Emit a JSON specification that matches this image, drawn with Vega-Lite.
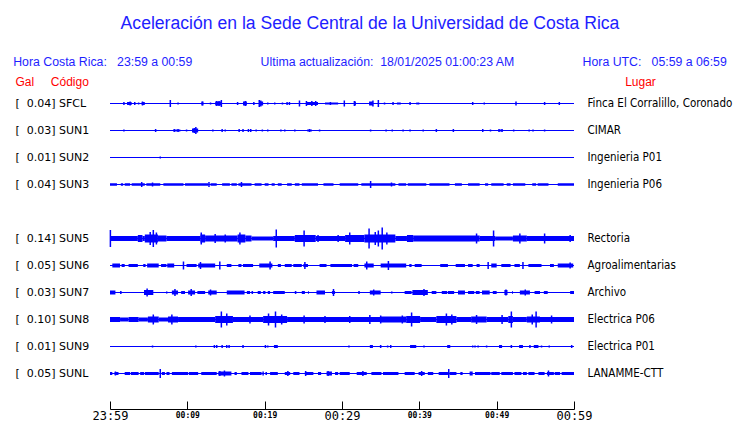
{
  "$schema": "https://vega.github.io/schema/vega-lite/v6.json",
  "autosize": {"type": "none"},
  "padding": {"left": 110, "top": 90, "right": 166, "bottom": 36},
  "width": 464,
  "height": 297,
  "background": "white",
  "title": {
    "text": "Aceleración en la Sede Central de la Universidad de Costa Rica",
    "subtitle": "Hora Costa Rica:\u00a0\u00a0\u00a023:59 a 00:59\u00a0\u00a0\u00a0\u00a0\u00a0\u00a0\u00a0\u00a0\u00a0\u00a0\u00a0\u00a0\u00a0\u00a0\u00a0\u00a0\u00a0\u00a0\u00a0\u00a0Ultima actualización:\u00a0\u00a018/01/2025 01:00:23 AM\u00a0\u00a0\u00a0\u00a0\u00a0\u00a0\u00a0\u00a0\u00a0\u00a0\u00a0\u00a0\u00a0\u00a0\u00a0\u00a0\u00a0\u00a0\u00a0\u00a0Hora UTC:\u00a0\u00a0\u00a005:59 a 06:59",
    "anchor": "middle",
    "dx": 28,
    "font": "Liberation Sans",
    "fontSize": 17.6,
    "fontWeight": "normal",
    "color": "#1e1eff",
    "subtitleFont": "Liberation Sans",
    "subtitleFontSize": 12.3,
    "subtitleColor": "#1e1eff",
    "subtitlePadding": 23,
    "offset": 7
  },
  "config": {"view": {"stroke": null}, "axis": {"grid": false}},
  "datasets": {
    "seg": [
      {"s":"SFCL","t0":0,"t1":60,"w":1},
      {"s":"SUN1","t0":0,"t1":60,"w":1},
      {"s":"SUN2","t0":0,"t1":60,"w":1},
      {"s":"SUN3","t0":0,"t1":60,"w":1},
      {"s":"SUN5","t0":0,"t1":60,"w":1},
      {"s":"SUN6","t0":0,"t1":60,"w":1},
      {"s":"SUN7","t0":0,"t1":60,"w":1},
      {"s":"SUN8","t0":0,"t1":60,"w":1},
      {"s":"SUN9","t0":0,"t1":60,"w":1},
      {"s":"SUNL","t0":0,"t1":60,"w":1},
      {"s":"SFCL","t0":2.3,"t1":2.8,"w":3},
      {"s":"SFCL","t0":4.1,"t1":4.5,"w":3},
      {"s":"SFCL","t0":13.6,"t1":14.4,"w":4},
      {"s":"SFCL","t0":17.2,"t1":17.7,"w":4},
      {"s":"SFCL","t0":19.3,"t1":19.8,"w":4},
      {"s":"SFCL","t0":25.4,"t1":26.9,"w":3},
      {"s":"SFCL","t0":27.8,"t1":29.5,"w":2},
      {"s":"SFCL","t0":31.6,"t1":31.8,"w":4},
      {"s":"SFCL","t0":33.5,"t1":34.0,"w":4},
      {"s":"SFCL","t0":37.1,"t1":37.6,"w":2},
      {"s":"SUN1","t0":8.3,"t1":9.1,"w":2},
      {"s":"SUN1","t0":10.6,"t1":11.4,"w":4},
      {"s":"SUN1","t0":25.5,"t1":26.1,"w":2},
      {"s":"SUN1","t0":50.3,"t1":50.7,"w":2},
      {"s":"SUN3","t0":0,"t1":0.9,"w":2.5},
      {"s":"SUN3","t0":1.4,"t1":1.7,"w":2.5},
      {"s":"SUN3","t0":1.9,"t1":2.6,"w":2.5},
      {"s":"SUN3","t0":2.8,"t1":4.5,"w":2.5},
      {"s":"SUN3","t0":4.7,"t1":6.5,"w":2.5},
      {"s":"SUN3","t0":6.9,"t1":9.5,"w":2.5},
      {"s":"SUN3","t0":9.7,"t1":12.7,"w":2.5},
      {"s":"SUN3","t0":13.0,"t1":13.8,"w":2.5},
      {"s":"SUN3","t0":14.5,"t1":15.5,"w":2.5},
      {"s":"SUN3","t0":15.7,"t1":16.4,"w":2.5},
      {"s":"SUN3","t0":16.6,"t1":18.3,"w":2.5},
      {"s":"SUN3","t0":18.7,"t1":19.6,"w":2.5},
      {"s":"SUN3","t0":20.0,"t1":20.5,"w":2.5},
      {"s":"SUN3","t0":20.9,"t1":21.3,"w":2.5},
      {"s":"SUN3","t0":21.7,"t1":22.2,"w":2.5},
      {"s":"SUN3","t0":22.9,"t1":23.5,"w":2.5},
      {"s":"SUN3","t0":23.9,"t1":24.5,"w":2.5},
      {"s":"SUN3","t0":24.8,"t1":26.9,"w":2.5},
      {"s":"SUN3","t0":27.6,"t1":28.9,"w":2.5},
      {"s":"SUN3","t0":29.7,"t1":32.1,"w":2.5},
      {"s":"SUN3","t0":32.5,"t1":36.9,"w":2.5},
      {"s":"SUN3","t0":37.3,"t1":38.3,"w":2.5},
      {"s":"SUN3","t0":38.5,"t1":40.9,"w":2.5},
      {"s":"SUN3","t0":41.3,"t1":43.9,"w":2.5},
      {"s":"SUN3","t0":44.6,"t1":45.5,"w":2.5},
      {"s":"SUN3","t0":46.3,"t1":47.8,"w":2.5},
      {"s":"SUN3","t0":48.5,"t1":48.9,"w":2.5},
      {"s":"SUN3","t0":49.3,"t1":50.9,"w":2.5},
      {"s":"SUN3","t0":51.3,"t1":51.8,"w":2.5},
      {"s":"SUN3","t0":52.1,"t1":53.7,"w":2.5},
      {"s":"SUN3","t0":54.6,"t1":55.1,"w":2.5},
      {"s":"SUN3","t0":55.3,"t1":56.7,"w":2.5},
      {"s":"SUN3","t0":57.9,"t1":60,"w":2.5},
      {"s":"SUN5","t0":0.1,"t1":3.6,"w":5},
      {"s":"SUN5","t0":3.6,"t1":4.2,"w":7},
      {"s":"SUN5","t0":4.2,"t1":4.5,"w":5},
      {"s":"SUN5","t0":4.5,"t1":6.2,"w":8},
      {"s":"SUN5","t0":6.2,"t1":7.3,"w":6},
      {"s":"SUN5","t0":7.3,"t1":11.7,"w":5},
      {"s":"SUN5","t0":11.7,"t1":12.3,"w":8},
      {"s":"SUN5","t0":12.3,"t1":16.5,"w":6},
      {"s":"SUN5","t0":16.5,"t1":17.5,"w":8},
      {"s":"SUN5","t0":17.5,"t1":18.3,"w":6},
      {"s":"SUN5","t0":18.3,"t1":21.1,"w":4},
      {"s":"SUN5","t0":21.1,"t1":23.9,"w":5},
      {"s":"SUN5","t0":23.9,"t1":26.6,"w":7},
      {"s":"SUN5","t0":26.6,"t1":30.4,"w":5},
      {"s":"SUN5","t0":30.4,"t1":32.9,"w":7},
      {"s":"SUN5","t0":32.9,"t1":36.9,"w":8},
      {"s":"SUN5","t0":36.9,"t1":38.4,"w":5},
      {"s":"SUN5","t0":38.4,"t1":39.2,"w":7},
      {"s":"SUN5","t0":39.2,"t1":47.8,"w":6},
      {"s":"SUN5","t0":47.8,"t1":49.8,"w":5},
      {"s":"SUN5","t0":49.8,"t1":52.1,"w":4},
      {"s":"SUN5","t0":52.1,"t1":53.9,"w":6},
      {"s":"SUN5","t0":53.9,"t1":60,"w":5},
      {"s":"SUN6","t0":0.3,"t1":1.3,"w":4},
      {"s":"SUN6","t0":1.5,"t1":1.9,"w":3},
      {"s":"SUN6","t0":2.4,"t1":3.6,"w":3},
      {"s":"SUN6","t0":4.3,"t1":4.6,"w":3},
      {"s":"SUN6","t0":4.8,"t1":6.3,"w":4},
      {"s":"SUN6","t0":6.6,"t1":7.3,"w":3},
      {"s":"SUN6","t0":7.4,"t1":8.3,"w":4},
      {"s":"SUN6","t0":9.9,"t1":11.2,"w":3},
      {"s":"SUN6","t0":11.4,"t1":13.6,"w":4},
      {"s":"SUN6","t0":15.1,"t1":15.7,"w":3},
      {"s":"SUN6","t0":16.6,"t1":17.0,"w":3},
      {"s":"SUN6","t0":17.2,"t1":18.5,"w":3},
      {"s":"SUN6","t0":19.3,"t1":21.0,"w":4},
      {"s":"SUN6","t0":21.7,"t1":22.1,"w":3},
      {"s":"SUN6","t0":22.6,"t1":23.5,"w":3},
      {"s":"SUN6","t0":23.7,"t1":24.8,"w":3},
      {"s":"SUN6","t0":25.0,"t1":25.6,"w":3},
      {"s":"SUN6","t0":27.1,"t1":28.0,"w":3},
      {"s":"SUN6","t0":28.5,"t1":31.3,"w":3},
      {"s":"SUN6","t0":31.5,"t1":32.1,"w":3},
      {"s":"SUN6","t0":32.9,"t1":34.1,"w":4},
      {"s":"SUN6","t0":35.0,"t1":38.3,"w":4},
      {"s":"SUN6","t0":38.7,"t1":39.0,"w":3},
      {"s":"SUN6","t0":39.4,"t1":40.3,"w":3},
      {"s":"SUN6","t0":42.7,"t1":43.7,"w":3},
      {"s":"SUN6","t0":44.7,"t1":45.9,"w":3},
      {"s":"SUN6","t0":46.3,"t1":46.9,"w":3},
      {"s":"SUN6","t0":47.4,"t1":47.8,"w":3},
      {"s":"SUN6","t0":49.3,"t1":50.0,"w":4},
      {"s":"SUN6","t0":50.6,"t1":51.8,"w":3},
      {"s":"SUN6","t0":52.3,"t1":53.0,"w":3},
      {"s":"SUN6","t0":54.1,"t1":55.8,"w":3},
      {"s":"SUN6","t0":56.9,"t1":57.4,"w":3},
      {"s":"SUN6","t0":57.9,"t1":59.9,"w":4},
      {"s":"SUN7","t0":0,"t1":0.7,"w":4},
      {"s":"SUN7","t0":1.3,"t1":1.5,"w":3},
      {"s":"SUN7","t0":4.4,"t1":5.6,"w":5},
      {"s":"SUN7","t0":7.3,"t1":7.4,"w":3},
      {"s":"SUN7","t0":8.0,"t1":8.8,"w":4},
      {"s":"SUN7","t0":9.2,"t1":9.7,"w":3},
      {"s":"SUN7","t0":10.1,"t1":11.0,"w":4},
      {"s":"SUN7","t0":11.3,"t1":12.3,"w":3},
      {"s":"SUN7","t0":12.7,"t1":13.8,"w":4},
      {"s":"SUN7","t0":15.1,"t1":17.4,"w":4},
      {"s":"SUN7","t0":17.7,"t1":18.1,"w":3},
      {"s":"SUN7","t0":18.3,"t1":18.5,"w":3},
      {"s":"SUN7","t0":19.1,"t1":19.5,"w":3},
      {"s":"SUN7","t0":19.8,"t1":20.1,"w":3},
      {"s":"SUN7","t0":20.4,"t1":20.7,"w":3},
      {"s":"SUN7","t0":21.1,"t1":22.6,"w":3},
      {"s":"SUN7","t0":23.9,"t1":24.1,"w":3},
      {"s":"SUN7","t0":24.8,"t1":25.2,"w":3},
      {"s":"SUN7","t0":25.6,"t1":25.7,"w":3},
      {"s":"SUN7","t0":26.7,"t1":27.8,"w":4},
      {"s":"SUN7","t0":28.7,"t1":29.1,"w":3},
      {"s":"SUN7","t0":32.1,"t1":32.3,"w":3},
      {"s":"SUN7","t0":33.6,"t1":35.0,"w":4},
      {"s":"SUN7","t0":36.4,"t1":36.5,"w":3},
      {"s":"SUN7","t0":38.1,"t1":39.0,"w":3},
      {"s":"SUN7","t0":39.1,"t1":41.1,"w":5},
      {"s":"SUN7","t0":41.6,"t1":42.2,"w":3},
      {"s":"SUN7","t0":42.9,"t1":43.6,"w":3},
      {"s":"SUN7","t0":43.7,"t1":44.5,"w":3},
      {"s":"SUN7","t0":45.0,"t1":45.9,"w":4},
      {"s":"SUN7","t0":46.3,"t1":47.1,"w":3},
      {"s":"SUN7","t0":47.3,"t1":47.8,"w":3},
      {"s":"SUN7","t0":48.1,"t1":49.1,"w":4},
      {"s":"SUN7","t0":49.5,"t1":50.0,"w":3},
      {"s":"SUN7","t0":51.0,"t1":51.4,"w":5},
      {"s":"SUN7","t0":52.0,"t1":52.1,"w":3},
      {"s":"SUN7","t0":53.0,"t1":54.3,"w":4},
      {"s":"SUN7","t0":54.9,"t1":55.6,"w":3},
      {"s":"SUN7","t0":56.1,"t1":56.6,"w":3},
      {"s":"SUN7","t0":59.5,"t1":60,"w":3},
      {"s":"SUN8","t0":0,"t1":1.3,"w":5},
      {"s":"SUN8","t0":1.3,"t1":2.4,"w":4},
      {"s":"SUN8","t0":2.4,"t1":3.7,"w":5},
      {"s":"SUN8","t0":3.7,"t1":4.9,"w":4},
      {"s":"SUN8","t0":4.9,"t1":6.3,"w":6},
      {"s":"SUN8","t0":6.3,"t1":7.5,"w":4},
      {"s":"SUN8","t0":7.5,"t1":8.8,"w":6},
      {"s":"SUN8","t0":8.8,"t1":13.6,"w":5},
      {"s":"SUN8","t0":13.6,"t1":15.9,"w":7},
      {"s":"SUN8","t0":15.9,"t1":19.8,"w":5},
      {"s":"SUN8","t0":19.8,"t1":22.9,"w":7},
      {"s":"SUN8","t0":22.9,"t1":35.0,"w":5},
      {"s":"SUN8","t0":35.0,"t1":38.3,"w":6},
      {"s":"SUN8","t0":38.3,"t1":40.1,"w":7},
      {"s":"SUN8","t0":40.1,"t1":42.2,"w":5},
      {"s":"SUN8","t0":42.2,"t1":44.8,"w":7},
      {"s":"SUN8","t0":44.8,"t1":46.7,"w":5},
      {"s":"SUN8","t0":46.7,"t1":48.7,"w":6},
      {"s":"SUN8","t0":48.7,"t1":51.5,"w":5},
      {"s":"SUN8","t0":51.5,"t1":52.1,"w":7},
      {"s":"SUN8","t0":52.1,"t1":53.9,"w":5},
      {"s":"SUN8","t0":53.9,"t1":55.6,"w":6},
      {"s":"SUN8","t0":55.6,"t1":60,"w":5},
      {"s":"SUN9","t0":21.2,"t1":21.7,"w":3},
      {"s":"SUN9","t0":33.6,"t1":34.0,"w":3},
      {"s":"SUN9","t0":34.9,"t1":35.1,"w":3},
      {"s":"SUN9","t0":38.8,"t1":39.6,"w":3},
      {"s":"SUN9","t0":43.6,"t1":44.0,"w":3},
      {"s":"SUN9","t0":50.3,"t1":50.7,"w":3},
      {"s":"SUN9","t0":51.8,"t1":52.0,"w":3},
      {"s":"SUN9","t0":52.9,"t1":53.4,"w":3},
      {"s":"SUN9","t0":54.8,"t1":55.4,"w":3},
      {"s":"SUNL","t0":0,"t1":0.3,"w":3},
      {"s":"SUNL","t0":0.6,"t1":1.1,"w":3},
      {"s":"SUNL","t0":1.9,"t1":2.6,"w":3},
      {"s":"SUNL","t0":2.7,"t1":3.7,"w":3},
      {"s":"SUNL","t0":3.9,"t1":4.4,"w":3},
      {"s":"SUNL","t0":4.5,"t1":6.3,"w":3},
      {"s":"SUNL","t0":6.7,"t1":7.1,"w":3},
      {"s":"SUNL","t0":7.3,"t1":7.7,"w":3},
      {"s":"SUNL","t0":8.0,"t1":10.1,"w":3},
      {"s":"SUNL","t0":10.2,"t1":11.4,"w":3},
      {"s":"SUNL","t0":11.8,"t1":13.8,"w":3},
      {"s":"SUNL","t0":14.0,"t1":15.7,"w":4},
      {"s":"SUNL","t0":16.1,"t1":16.4,"w":3},
      {"s":"SUNL","t0":17.0,"t1":17.9,"w":3},
      {"s":"SUNL","t0":18.1,"t1":19.6,"w":3},
      {"s":"SUNL","t0":20.1,"t1":20.3,"w":3},
      {"s":"SUNL","t0":20.7,"t1":21.7,"w":3},
      {"s":"SUNL","t0":22.6,"t1":23.3,"w":3},
      {"s":"SUNL","t0":23.7,"t1":24.5,"w":3},
      {"s":"SUNL","t0":25.2,"t1":26.3,"w":3},
      {"s":"SUNL","t0":26.9,"t1":27.3,"w":3},
      {"s":"SUNL","t0":28.0,"t1":28.7,"w":4},
      {"s":"SUNL","t0":29.1,"t1":29.5,"w":3},
      {"s":"SUNL","t0":29.7,"t1":31.0,"w":3},
      {"s":"SUNL","t0":31.9,"t1":33.2,"w":3},
      {"s":"SUNL","t0":33.8,"t1":35.1,"w":3},
      {"s":"SUNL","t0":35.3,"t1":37.3,"w":3},
      {"s":"SUNL","t0":38.1,"t1":39.4,"w":3},
      {"s":"SUNL","t0":39.9,"t1":40.7,"w":3},
      {"s":"SUNL","t0":41.1,"t1":41.8,"w":3},
      {"s":"SUNL","t0":42.5,"t1":43.7,"w":3},
      {"s":"SUNL","t0":43.9,"t1":44.8,"w":3},
      {"s":"SUNL","t0":45.3,"t1":45.6,"w":3},
      {"s":"SUNL","t0":46.5,"t1":46.9,"w":4},
      {"s":"SUNL","t0":47.2,"t1":49.2,"w":3},
      {"s":"SUNL","t0":49.3,"t1":50.4,"w":3},
      {"s":"SUNL","t0":50.6,"t1":52.1,"w":3},
      {"s":"SUNL","t0":52.3,"t1":53.2,"w":3},
      {"s":"SUNL","t0":53.4,"t1":53.9,"w":3},
      {"s":"SUNL","t0":54.1,"t1":54.9,"w":3},
      {"s":"SUNL","t0":55.4,"t1":56.2,"w":3},
      {"s":"SUNL","t0":56.5,"t1":57.4,"w":3},
      {"s":"SUNL","t0":57.5,"t1":58.2,"w":3},
      {"s":"SUNL","t0":58.4,"t1":60,"w":3}
    ],
    "pk": [
      {"s":"SFCL","t":1.8,"a":3},{"s":"SFCL","t":2.3,"a":3},{"s":"SFCL","t":2.6,"a":4},{"s":"SFCL","t":3.2,"a":3},
      {"s":"SFCL","t":3.7,"a":2},{"s":"SFCL","t":4.2,"a":4},{"s":"SFCL","t":7.8,"a":7},{"s":"SFCL","t":8.8,"a":2},
      {"s":"SFCL","t":11.9,"a":4},{"s":"SFCL","t":12.0,"a":4},{"s":"SFCL","t":13.0,"a":2},{"s":"SFCL","t":13.8,"a":5},
      {"s":"SFCL","t":14.1,"a":5},{"s":"SFCL","t":14.4,"a":7},{"s":"SFCL","t":16.5,"a":3},{"s":"SFCL","t":17.5,"a":5},
      {"s":"SFCL","t":18.6,"a":3},{"s":"SFCL","t":19.3,"a":7},{"s":"SFCL","t":19.5,"a":6},{"s":"SFCL","t":20.4,"a":2},
      {"s":"SFCL","t":21.3,"a":2},{"s":"SFCL","t":22.3,"a":2},{"s":"SFCL","t":22.9,"a":3},{"s":"SFCL","t":23.2,"a":3},
      {"s":"SFCL","t":24.5,"a":6},{"s":"SFCL","t":25.4,"a":5},{"s":"SFCL","t":26.1,"a":5},{"s":"SFCL","t":26.6,"a":5},
      {"s":"SFCL","t":28.5,"a":3},{"s":"SFCL","t":30.3,"a":6},{"s":"SFCL","t":31.6,"a":5},{"s":"SFCL","t":34.0,"a":6},
      {"s":"SFCL","t":34.7,"a":7},{"s":"SFCL","t":35.5,"a":2},{"s":"SFCL","t":36.6,"a":3},{"s":"SFCL","t":38.8,"a":3},
      {"s":"SFCL","t":39.7,"a":2},{"s":"SFCL","t":39.9,"a":2},{"s":"SFCL","t":46.9,"a":3},{"s":"SFCL","t":48.4,"a":2},
      {"s":"SFCL","t":52.5,"a":4},{"s":"SFCL","t":56.2,"a":3},{"s":"SFCL","t":58.1,"a":3},
      {"s":"SUN1","t":1.8,"a":2},{"s":"SUN1","t":5.9,"a":3},{"s":"SUN1","t":8.3,"a":3},{"s":"SUN1","t":8.8,"a":3},
      {"s":"SUN1","t":9.9,"a":2},{"s":"SUN1","t":10.9,"a":5},{"s":"SUN1","t":11.1,"a":7},{"s":"SUN1","t":13.3,"a":2},
      {"s":"SUN1","t":14.5,"a":3},{"s":"SUN1","t":14.9,"a":2},{"s":"SUN1","t":16.7,"a":3},{"s":"SUN1","t":17.2,"a":3},
      {"s":"SUN1","t":17.9,"a":3},{"s":"SUN1","t":18.2,"a":3},{"s":"SUN1","t":18.9,"a":2},{"s":"SUN1","t":19.7,"a":2},
      {"s":"SUN1","t":20.4,"a":2},{"s":"SUN1","t":22.1,"a":2},{"s":"SUN1","t":22.6,"a":2},{"s":"SUN1","t":23.9,"a":2},
      {"s":"SUN1","t":25.8,"a":3},{"s":"SUN1","t":27.1,"a":2},{"s":"SUN1","t":33.7,"a":2},{"s":"SUN1","t":35.7,"a":2},
      {"s":"SUN1","t":36.5,"a":2},{"s":"SUN1","t":37.9,"a":2},{"s":"SUN1","t":38.8,"a":2},{"s":"SUN1","t":40.5,"a":2},
      {"s":"SUN1","t":42.2,"a":3},{"s":"SUN1","t":44.4,"a":3},{"s":"SUN1","t":48.2,"a":3},{"s":"SUN1","t":49.2,"a":2},
      {"s":"SUN1","t":50.3,"a":3},{"s":"SUN1","t":50.7,"a":3},{"s":"SUN1","t":52.2,"a":2},{"s":"SUN1","t":54.2,"a":2},
      {"s":"SUN1","t":54.7,"a":2},{"s":"SUN1","t":56.2,"a":2},
      {"s":"SUN2","t":6.5,"a":2},
      {"s":"SUN3","t":4.1,"a":5},{"s":"SUN3","t":5.5,"a":4},{"s":"SUN3","t":12.8,"a":5},{"s":"SUN3","t":17.0,"a":5},
      {"s":"SUN3","t":33.7,"a":7},{"s":"SUN3","t":36.4,"a":4},
      {"s":"SUN5","t":0.05,"a":17},{"s":"SUN5","t":5.2,"a":13},{"s":"SUN5","t":5.6,"a":17},{"s":"SUN5","t":6.0,"a":12},
      {"s":"SUN5","t":11.8,"a":12},{"s":"SUN5","t":13.6,"a":9},{"s":"SUN5","t":14.9,"a":8},{"s":"SUN5","t":16.8,"a":12},
      {"s":"SUN5","t":21.5,"a":18},{"s":"SUN5","t":25.1,"a":16},{"s":"SUN5","t":26.9,"a":7},{"s":"SUN5","t":29.5,"a":7},
      {"s":"SUN5","t":31.0,"a":12},{"s":"SUN5","t":33.5,"a":20},{"s":"SUN5","t":34.3,"a":13},{"s":"SUN5","t":34.7,"a":16},
      {"s":"SUN5","t":35.2,"a":22},{"s":"SUN5","t":35.8,"a":12},{"s":"SUN5","t":47.4,"a":10},{"s":"SUN5","t":49.6,"a":16},
      {"s":"SUN5","t":53.0,"a":10},{"s":"SUN5","t":56.2,"a":10},{"s":"SUN5","t":59.5,"a":7},
      {"s":"SUN6","t":9.5,"a":8},{"s":"SUN6","t":11.7,"a":7},{"s":"SUN6","t":14.2,"a":8},{"s":"SUN6","t":20.7,"a":8},
      {"s":"SUN6","t":25.2,"a":7},{"s":"SUN6","t":33.2,"a":8},{"s":"SUN6","t":36.0,"a":9},{"s":"SUN6","t":48.9,"a":7},
      {"s":"SUN6","t":53.4,"a":7},{"s":"SUN6","t":59.5,"a":6},
      {"s":"SUN7","t":4.8,"a":8},{"s":"SUN7","t":8.4,"a":7},{"s":"SUN7","t":10.5,"a":7},{"s":"SUN7","t":13.0,"a":6},
      {"s":"SUN7","t":28.9,"a":7},{"s":"SUN7","t":34.1,"a":6},{"s":"SUN7","t":40.6,"a":7},{"s":"SUN7","t":51.2,"a":6},
      {"s":"SUN7","t":53.7,"a":6},
      {"s":"SUN8","t":5.6,"a":10},{"s":"SUN8","t":8.0,"a":10},{"s":"SUN8","t":14.4,"a":16},{"s":"SUN8","t":15.1,"a":12},
      {"s":"SUN8","t":18.1,"a":8},{"s":"SUN8","t":20.5,"a":12},{"s":"SUN8","t":21.4,"a":16},{"s":"SUN8","t":22.2,"a":10},
      {"s":"SUN8","t":25.1,"a":8},{"s":"SUN8","t":27.8,"a":7},{"s":"SUN8","t":31.0,"a":7},{"s":"SUN8","t":33.6,"a":9},
      {"s":"SUN8","t":35.0,"a":8},{"s":"SUN8","t":37.8,"a":8},{"s":"SUN8","t":39.0,"a":14},{"s":"SUN8","t":43.5,"a":12},
      {"s":"SUN8","t":44.2,"a":10},{"s":"SUN8","t":47.4,"a":9},{"s":"SUN8","t":50.7,"a":9},{"s":"SUN8","t":51.9,"a":16},
      {"s":"SUN8","t":54.6,"a":10},{"s":"SUN8","t":55.1,"a":16},{"s":"SUN8","t":57.1,"a":8},
      {"s":"SUN9","t":5.5,"a":2},{"s":"SUN9","t":11.1,"a":2},{"s":"SUN9","t":13.5,"a":3},{"s":"SUN9","t":13.8,"a":3},
      {"s":"SUN9","t":14.5,"a":3},{"s":"SUN9","t":15.1,"a":3},{"s":"SUN9","t":15.4,"a":3},{"s":"SUN9","t":17.2,"a":3},
      {"s":"SUN9","t":20.1,"a":3},{"s":"SUN9","t":20.4,"a":2},{"s":"SUN9","t":30.9,"a":2},{"s":"SUN9","t":35.9,"a":2},
      {"s":"SUN9","t":36.3,"a":3},{"s":"SUN9","t":40.6,"a":2},{"s":"SUN9","t":46.9,"a":2},{"s":"SUN9","t":47.2,"a":2},
      {"s":"SUN9","t":47.6,"a":2},{"s":"SUN9","t":48.7,"a":2},{"s":"SUN9","t":54.3,"a":3},{"s":"SUN9","t":55.8,"a":2},
      {"s":"SUN9","t":56.8,"a":2},{"s":"SUN9","t":59.7,"a":3},
      {"s":"SUNL","t":0.7,"a":4},{"s":"SUNL","t":6.5,"a":9},{"s":"SUNL","t":14.2,"a":5},{"s":"SUNL","t":14.8,"a":6},
      {"s":"SUNL","t":19.8,"a":4},{"s":"SUNL","t":23.0,"a":5},{"s":"SUNL","t":25.3,"a":5},{"s":"SUNL","t":28.2,"a":5},
      {"s":"SUNL","t":32.7,"a":5},{"s":"SUNL","t":40.3,"a":5},{"s":"SUNL","t":43.8,"a":9},{"s":"SUNL","t":56.7,"a":6}
    ]
  },
  "layer": [
    {
      "data": {"name": "seg"},
      "mark": {"type": "bar", "color": "#0000ff", "stroke": null},
      "encoding": {
        "x": {
          "field": "t0", "type": "quantitative",
          "scale": {"domain": [0, 60], "nice": false, "zero": false},
          "axis": {
            "title": null, "offset": 22,
            "values": [0, 5, 10, 15, 20, 25, 30, 35, 40, 45, 50, 55, 60],
            "labelExpr": "datum.value == 0 ? '23:59' : datum.value == 10 ? '00:09' : datum.value == 20 ? '00:19' : datum.value == 30 ? '00:29' : datum.value == 40 ? '00:39' : datum.value == 50 ? '00:49' : datum.value == 60 ? '00:59' : ''",
            "labelFont": "DejaVu Sans Mono",
            "labelFontSize": {"condition": {"test": "datum.value % 30 == 0", "value": 12}, "value": 8},
            "labelFontWeight": {"condition": {"test": "datum.value % 30 == 0", "value": "normal"}, "value": "bold"},
            "labelColor": "black",
            "labelBaseline": "middle",
            "labelFlush": false,
            "labelOverlap": false,
            "labelPadding": 14,
            "tickSize": -8,
            "tickColor": "black",
            "domainColor": "black",
            "grid": false
          }
        },
        "x2": {"field": "t1"},
        "y": {
          "field": "s", "type": "nominal",
          "scale": {"type": "band", "domain": ["SFCL","SUN1","SUN2","SUN3","gap","SUN5","SUN6","SUN7","SUN8","SUN9","SUNL"], "paddingInner": 0, "paddingOuter": 0},
          "axis": {
            "orient": "left",
            "title": "Gal\u00a0\u00a0\u00a0\u00a0\u00a0Código",
            "titleAngle": 0, "titleAlign": "left", "titleBaseline": "middle",
            "titleX": -95, "titleY": -9,
            "titleColor": "#ff0000", "titleFont": "Liberation Sans", "titleFontSize": 12, "titleFontWeight": "normal",
            "ticks": false, "domain": false, "grid": false,
            "labelAlign": "left", "labelPadding": 95, "labelBaseline": "middle",
            "labelFont": "DejaVu Sans", "labelFontSize": 11, "labelColor": "black",
            "labelExpr": "['[\u00a0\u00a00.04]\u00a0SFCL','[\u00a0\u00a00.03]\u00a0SUN1','[\u00a0\u00a00.01]\u00a0SUN2','[\u00a0\u00a00.04]\u00a0SUN3','','[\u00a0\u00a00.14]\u00a0SUN5','[\u00a0\u00a00.05]\u00a0SUN6','[\u00a0\u00a00.03]\u00a0SUN7','[\u00a0\u00a00.10]\u00a0SUN8','[\u00a0\u00a00.01]\u00a0SUN9','[\u00a0\u00a00.05]\u00a0SUNL'][indexof(['SFCL','SUN1','SUN2','SUN3','gap','SUN5','SUN6','SUN7','SUN8','SUN9','SUNL'], datum.value)]"
          }
        },
        "size": {"field": "w", "type": "quantitative", "scale": {"domain": [0, 30], "range": [0, 30]}, "legend": null}
      }
    },
    {
      "data": {"name": "pk"},
      "mark": {"type": "tick", "color": "#0000ff", "thickness": 1.5, "opacity": 1},
      "encoding": {
        "x": {"field": "t", "type": "quantitative"},
        "y": {
          "field": "s", "type": "nominal",
          "axis": {
            "orient": "right",
            "title": "Lugar",
            "titleAngle": 0, "titleAlign": "center", "titleBaseline": "middle",
            "titleX": 66, "titleY": -9,
            "titleColor": "#ff0000", "titleFont": "Liberation Sans", "titleFontSize": 12, "titleFontWeight": "normal",
            "ticks": false, "domain": false, "grid": false,
            "labelAlign": "left", "labelPadding": 13, "labelBaseline": "middle",
            "labelFont": "DejaVu Sans Condensed", "labelFontSize": 11.5, "labelColor": "black",
            "labelExpr": "['Finca El Corralillo, Coronado','CIMAR','Ingenieria P01','Ingenieria P06','','Rectoria','Agroalimentarias','Archivo','Electrica P06','Electrica P01','LANAMME-CTT'][indexof(['SFCL','SUN1','SUN2','SUN3','gap','SUN5','SUN6','SUN7','SUN8','SUN9','SUNL'], datum.value)]"
          }
        },
        "size": {"field": "a", "type": "quantitative", "scale": {"domain": [0, 30], "range": [0, 30]}, "legend": null}
      }
    }
  ],
  "resolve": {"axis": {"y": "independent"}}
}
